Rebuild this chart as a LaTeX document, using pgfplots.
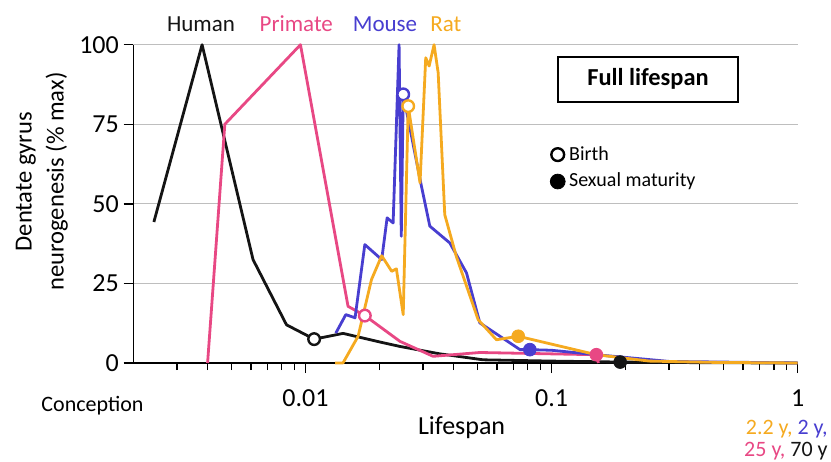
\documentclass[border=0pt]{standalone}
\usepackage{fontspec}
\setmainfont{Carlito}
\usepackage{pgfplots}
\pgfplotsset{compat=1.18}
\definecolor{cHuman}{RGB}{20,20,20}
\definecolor{cPrim}{RGB}{232,72,132}
\definecolor{cMouse}{RGB}{72,62,208}
\definecolor{cRat}{RGB}{245,170,32}
\definecolor{cGrid}{RGB}{190,190,190}
\begin{document}
\begin{tikzpicture}
\useasboundingbox (-66.75pt,-49.35pt) rectangle (348.75pt,181.5pt);
\begin{axis}[
  at={(0pt,0pt)}, anchor=south west,
  scale only axis, width=332.1pt, height=159.15pt,
  xmode=log, xmin=0.002, xmax=1, ymin=0, ymax=100,
  clip=false,
  axis x line*=bottom, axis y line*=left,
  axis line style={black, line width=0.8pt, -},
  xtick={0.01,0.1,1}, xticklabels={0.01,0.1,1},
  minor xtick={0.003,0.004,0.005,0.006,0.007,0.008,0.009,0.02,0.03,0.04,0.05,0.06,0.07,0.08,0.09,0.2,0.3,0.4,0.5,0.6,0.7,0.8,0.9},
  ytick={0,25,50,75,100},
  /pgf/number format/assume math mode=true,
  ymajorgrids, grid style={cGrid, line width=0.6pt},
  tick align=outside,
  major tick length=5pt, minor tick length=3.5pt,
  tick style={black, line width=0.7pt},
  ticklabel style={font=\fontsize{13}{15}\selectfont},
  xticklabel style={anchor=base, yshift=-16.7pt},
  yticklabel style={anchor=east, xshift=1.2pt},
  xlabel={Lifespan},
  xlabel style={font=\fontsize{13}{15}\selectfont, at={(axis description cs:0.494,0)}, anchor=base, yshift=-35.85pt},
  ylabel={Dentate gyrus\\neurogenesis (\% max)},
  ylabel style={font=\fontsize{12.3}{16}\selectfont, align=center, at={(axis description cs:-0.1380,0.57)}, anchor=center},
  legend style={draw=none, fill=none, at={(axis description cs:0.627,0.695)}, anchor=north west,
    font=\fontsize{10}{12}\selectfont, row sep=1pt, inner sep=0pt},
  legend cell align=left,
  legend image code/.code={\draw[#1] plot coordinates {(0pt,0pt)};},
]
% Human (70 y)
\addplot[forget plot, cHuman, line width=1.4pt, line join=round] coordinates {
 (0.00242,44.3) (0.0038,100) (0.00612,32.5) (0.00837,12.0) (0.01084,7.5)
 (0.01422,9.3) (0.02005,6.6) (0.0242,5.2) (0.035,2.9) (0.0527,1.0)
 (0.1,0.6) (0.19,0.3) (0.4,0.1) (1,0)};
% Primate (25 y)
\addplot[forget plot, cPrim, line width=1.4pt, line join=round] coordinates {
 (0.004,0) (0.0047,75) (0.00954,100) (0.01489,17.8) (0.01742,14.9)
 (0.0242,6.8) (0.033,2.1) (0.0511,3.3) (0.152,2.6) (0.155,0)};
% Mouse (2 y)
\addplot[forget plot, cMouse, line width=1.4pt, line join=round] coordinates {
 (0.01328,9.4) (0.01458,15.2) (0.0159,14.2) (0.01742,37.2) (0.0204,32.5)
 (0.02146,45.6) (0.0227,44) (0.024,100) (0.0245,39.8) (0.02495,84.4)
 (0.0296,55.5) (0.032,43) (0.0386,37.7) (0.0451,28.3) (0.0511,12.6)
 (0.0617,8.4) (0.0744,4.2) (0.0816,4.2) (0.1,4.0) (0.152,2.6) (0.3,0.5) (1,0)};
% Rat (2.2 y)
\addplot[forget plot, cRat, line width=1.4pt, line join=round] coordinates {
 (0.0132,0) (0.0142,0) (0.01636,8.4) (0.01854,26.2) (0.0204,33.7)
 (0.0224,28.8) (0.0234,29.6) (0.02495,15.2) (0.02614,80.7) (0.0292,56.6)
 (0.0308,95.9) (0.0318,93.3) (0.0333,100) (0.0346,91.2) (0.0368,46.6)
 (0.041,33.5) (0.0503,13.6) (0.0597,7.3) (0.0732,8.4) (0.152,2.6)
 (0.25,0.6) (0.45,0.2) (1,0)};
% Birth markers (open)
\addplot[forget plot, only marks, mark=*, mark size=2.9pt, draw=cHuman, fill=white, line width=1.2pt] coordinates {(0.01084,7.5)};
\addplot[forget plot, only marks, mark=*, mark size=2.9pt, draw=cPrim, fill=white, line width=1.2pt] coordinates {(0.01742,14.9)};
\addplot[forget plot, only marks, mark=*, mark size=2.9pt, draw=cMouse, fill=white, line width=1.2pt] coordinates {(0.02495,84.4)};
\addplot[forget plot, only marks, mark=*, mark size=2.9pt, draw=cRat, fill=white, line width=1.2pt] coordinates {(0.02614,80.7)};
% Sexual maturity markers (filled)
\addplot[forget plot, only marks, mark=*, mark size=3.2pt, cHuman] coordinates {(0.19,0.3)};
\addplot[forget plot, only marks, mark=*, mark size=3.2pt, cPrim] coordinates {(0.152,2.6)};
\addplot[forget plot, only marks, mark=*, mark size=3.2pt, cMouse] coordinates {(0.0816,4.2)};
\addplot[forget plot, only marks, mark=*, mark size=3.2pt, cRat] coordinates {(0.0732,8.4)};
% legend
\addlegendimage{only marks, mark=*, mark size=3.2pt, draw=black, fill=white, line width=1.2pt}
\addlegendentry{Birth}
\addlegendimage{only marks, mark=*, mark size=3.7pt, black}
\addlegendentry{Sexual maturity}
\end{axis}
% species labels
\node[anchor=base, font=\fontsize{11.5}{13}\selectfont, text=cHuman] at (33.75pt,165.65pt) {Human};
\node[anchor=base, font=\fontsize{11.5}{13}\selectfont, text=cPrim] at (81.4pt,165.65pt) {Primate};
\node[anchor=base, font=\fontsize{11.5}{13}\selectfont, text=cMouse] at (125.75pt,165.65pt) {Mouse};
\node[anchor=base, font=\fontsize{11.5}{13}\selectfont, text=cRat] at (156.15pt,165.65pt) {Rat};
% box
\node[draw=black, line width=1pt, minimum width=90pt, minimum height=22.5pt, inner sep=0pt,
      font=\bfseries\fontsize{12.2}{14}\selectfont] at (257.25pt,141.9pt) {Full lifespan};
% bottom texts
\node[anchor=base, font=\fontsize{11}{13}\selectfont] at (-20.5pt,-24.2pt) {Conception};
\node[anchor=base east, font=\fontsize{11}{13}\selectfont, inner sep=0pt] at (347.25pt,-35.85pt)
  {\textcolor{cRat}{2.2 y,} \textcolor{cMouse}{2 y,}};
\node[anchor=base east, font=\fontsize{11}{13}\selectfont, inner sep=0pt] at (347.25pt,-46.85pt)
  {\textcolor{cPrim}{25 y,} \textcolor{cHuman}{70 y}};
\end{tikzpicture}
\end{document}
